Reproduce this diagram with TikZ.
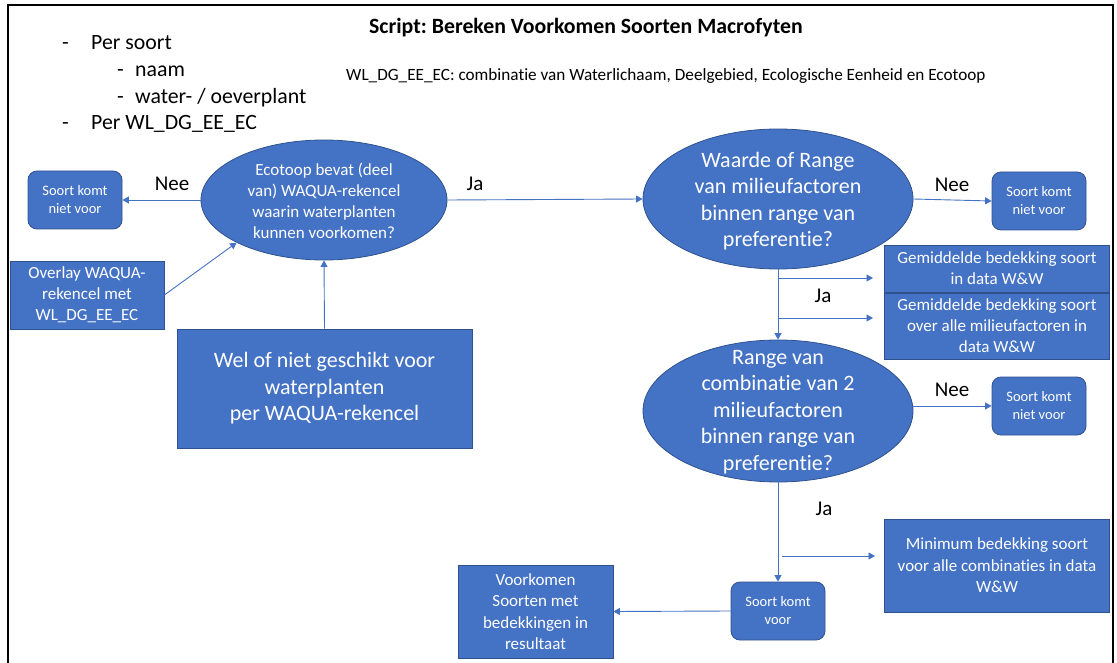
\documentclass[tikz,border=0pt]{standalone}
\usepackage{fontspec}
\setmainfont{Carlito}[Ligatures=NoCommon]
\usetikzlibrary{shapes.geometric,arrows.meta}
\definecolor{ofblue}{HTML}{4472C4}
\definecolor{ofedge}{HTML}{2F528F}
\newcommand\fsz[2]{\fontsize{#1}{#2}\selectfont}
\frenchspacing
\tikzset{
  shape base/.style={draw=ofedge, line width=0.8pt, fill=ofblue, text=white,
    align=center, inner sep=0pt},
  flatbox/.style={shape base, rectangle},
  roundbox/.style={shape base, rectangle, rounded corners=9pt,
    minimum width=94pt, minimum height=58pt, font=\fsz{14.5}{18}},
  oval/.style={shape base, ellipse},
  ovaltext/.style={text=white, align=center, inner sep=0pt},
  flow/.style={draw=ofblue, line width=0.9pt, -{Triangle[length=6.5pt,width=7pt]}},
  answer/.style={font=\fsz{21}{25}, inner sep=0pt},
  bullet/.style={font=\fsz{21.8}{25}, inner sep=0pt, anchor=base west},
}
\begin{document}
\begin{tikzpicture}[x=1pt, y=-1pt]
\useasboundingbox (0,0) rectangle (1117,663);

% open frame around the sheet
\draw[line width=2pt, black] (8,663) -- (8,5) -- (1113,5) -- (1113,663);

% heading and legend
\node[font=\bfseries\fsz{21.8}{26}, inner sep=0pt] (title) at (586,28)
  {Script: Bereken Voorkomen Soorten Macrofyten};
\node[font=\fsz{17.2}{20}, inner sep=0pt, anchor=west] (legend) at (346,76)
  {WL\_DG\_EE\_EC: combinatie van Waterlichaam, Deelgebied, Ecologische Eenheid en Ecotoop};

% input list
\node[bullet] (d1) at (62,50) {-};
\node[bullet] (b1) at (91,50) {Per soort};
\node[bullet] (d2) at (117,77) {-};
\node[bullet] (b2) at (135,77) {naam};
\node[bullet] (d3) at (117,104) {-};
\node[bullet] (b3) at (135,104) {water- / oeverplant};
\node[bullet] (d4) at (62,130) {-};
\node[bullet] (b4) at (91,130) {Per WL\_DG\_EE\_EC};

% first decision
\node[oval, minimum width=246pt, minimum height=120pt] (e1) at (324,200) {};
\node[ovaltext, font=\fsz{17}{21}] (t1) at (324,201)
  {Ecotoop bevat (deel\\van) WAQUA-rekencel\\waarin waterplanten\\kunnen voorkomen?};
\node[roundbox] (n1) at (75,200) {Soort komt\\niet voor};
\node[flatbox, minimum width=154pt, minimum height=68pt, font=\fsz{17}{21}] (ov) at (87,295)
  {Overlay WAQUA-\\rekencel met\\WL\_DG\_EE\_EC};
\node[flatbox, minimum width=295pt, minimum height=119pt, font=\fsz{22}{26.5}] (big) at (324.5,388.5)
  {Wel of niet geschikt voor\\waterplanten\\per WAQUA-rekencel};
\node[answer] (nee1) at (172,184) {Nee};
\node[answer] (ja1) at (475,184) {Ja};

% second decision
\node[oval, minimum width=270pt, minimum height=140pt] (e2) at (778,199) {};
\node[ovaltext, font=\fsz{22}{26.5}] (t2) at (778,201)
  {Waarde of Range\\van milieufactoren\\binnen range van\\preferentie?};
\node[roundbox] (n2) at (1039,201) {Soort komt\\niet voor};
\node[answer] (nee2) at (952,185) {Nee};
\node[answer] (ja2) at (823,296) {Ja};
\node[flatbox, minimum width=225pt, minimum height=47pt, font=\fsz{17}{21}] (g1) at (997,268.5)
  {Gemiddelde bedekking soort\\in data W\&W};
\node[flatbox, minimum width=225pt, minimum height=66pt, font=\fsz{17}{21}] (g2) at (997,326)
  {Gemiddelde bedekking soort\\over alle milieufactoren in\\data W\&W};

% third decision
\node[oval, minimum width=270pt, minimum height=142pt] (e3) at (778,411) {};
\node[ovaltext, font=\fsz{22}{26.5}] (t3) at (778,412)
  {Range van\\combinatie van 2\\milieufactoren\\binnen range van\\preferentie?};
\node[roundbox] (n3) at (1039,406) {Soort komt\\niet voor};
\node[answer] (nee3) at (952,390) {Nee};
\node[answer] (ja3) at (824,509) {Ja};
\node[flatbox, minimum width=225pt, minimum height=93pt, font=\fsz{17}{21.5}] (mb) at (997,565.5)
  {Minimum bedekking soort\\voor alle combinaties in data\\W\&W};

% outcome
\node[roundbox] (skv) at (778,611) {Soort komt\\voor};
\node[flatbox, minimum width=155pt, minimum height=93pt, font=\fsz{17}{21.5}] (res) at (535.5,611.5)
  {Voorkomen\\Soorten met\\bedekkingen in\\resultaat};

% branch points on the vertical connectors
\coordinate (j1) at (778,278);
\coordinate (j2) at (778,318);
\coordinate (j3) at (782,556);
\coordinate (k1) at (873,278);
\coordinate (k2) at (873,318);
\coordinate (k3) at (875,556);

% connectors
\draw[flow] (e1.west) -- (n1.east);
\draw[flow] (e1.east) -- (e2.west);
\draw[flow] (ov.east) -- (e1.206);
\draw[flow] (big.north) -- (e1.south);
\draw[flow] (e2.east) -- (n2.west);
\draw[flow] (e2.south) -- (e3.north);
\draw[flow] (j1) -- (k1);
\draw[flow] (j2) -- (k2);
\draw[flow] (e3.east |- n3.west) -- (n3.west);
\draw[flow] (e3.south) -- (skv.north);
\draw[flow] (j3) -- (k3);
\draw[flow] (skv.west) -- (res.east);
\end{tikzpicture}
\end{document}
